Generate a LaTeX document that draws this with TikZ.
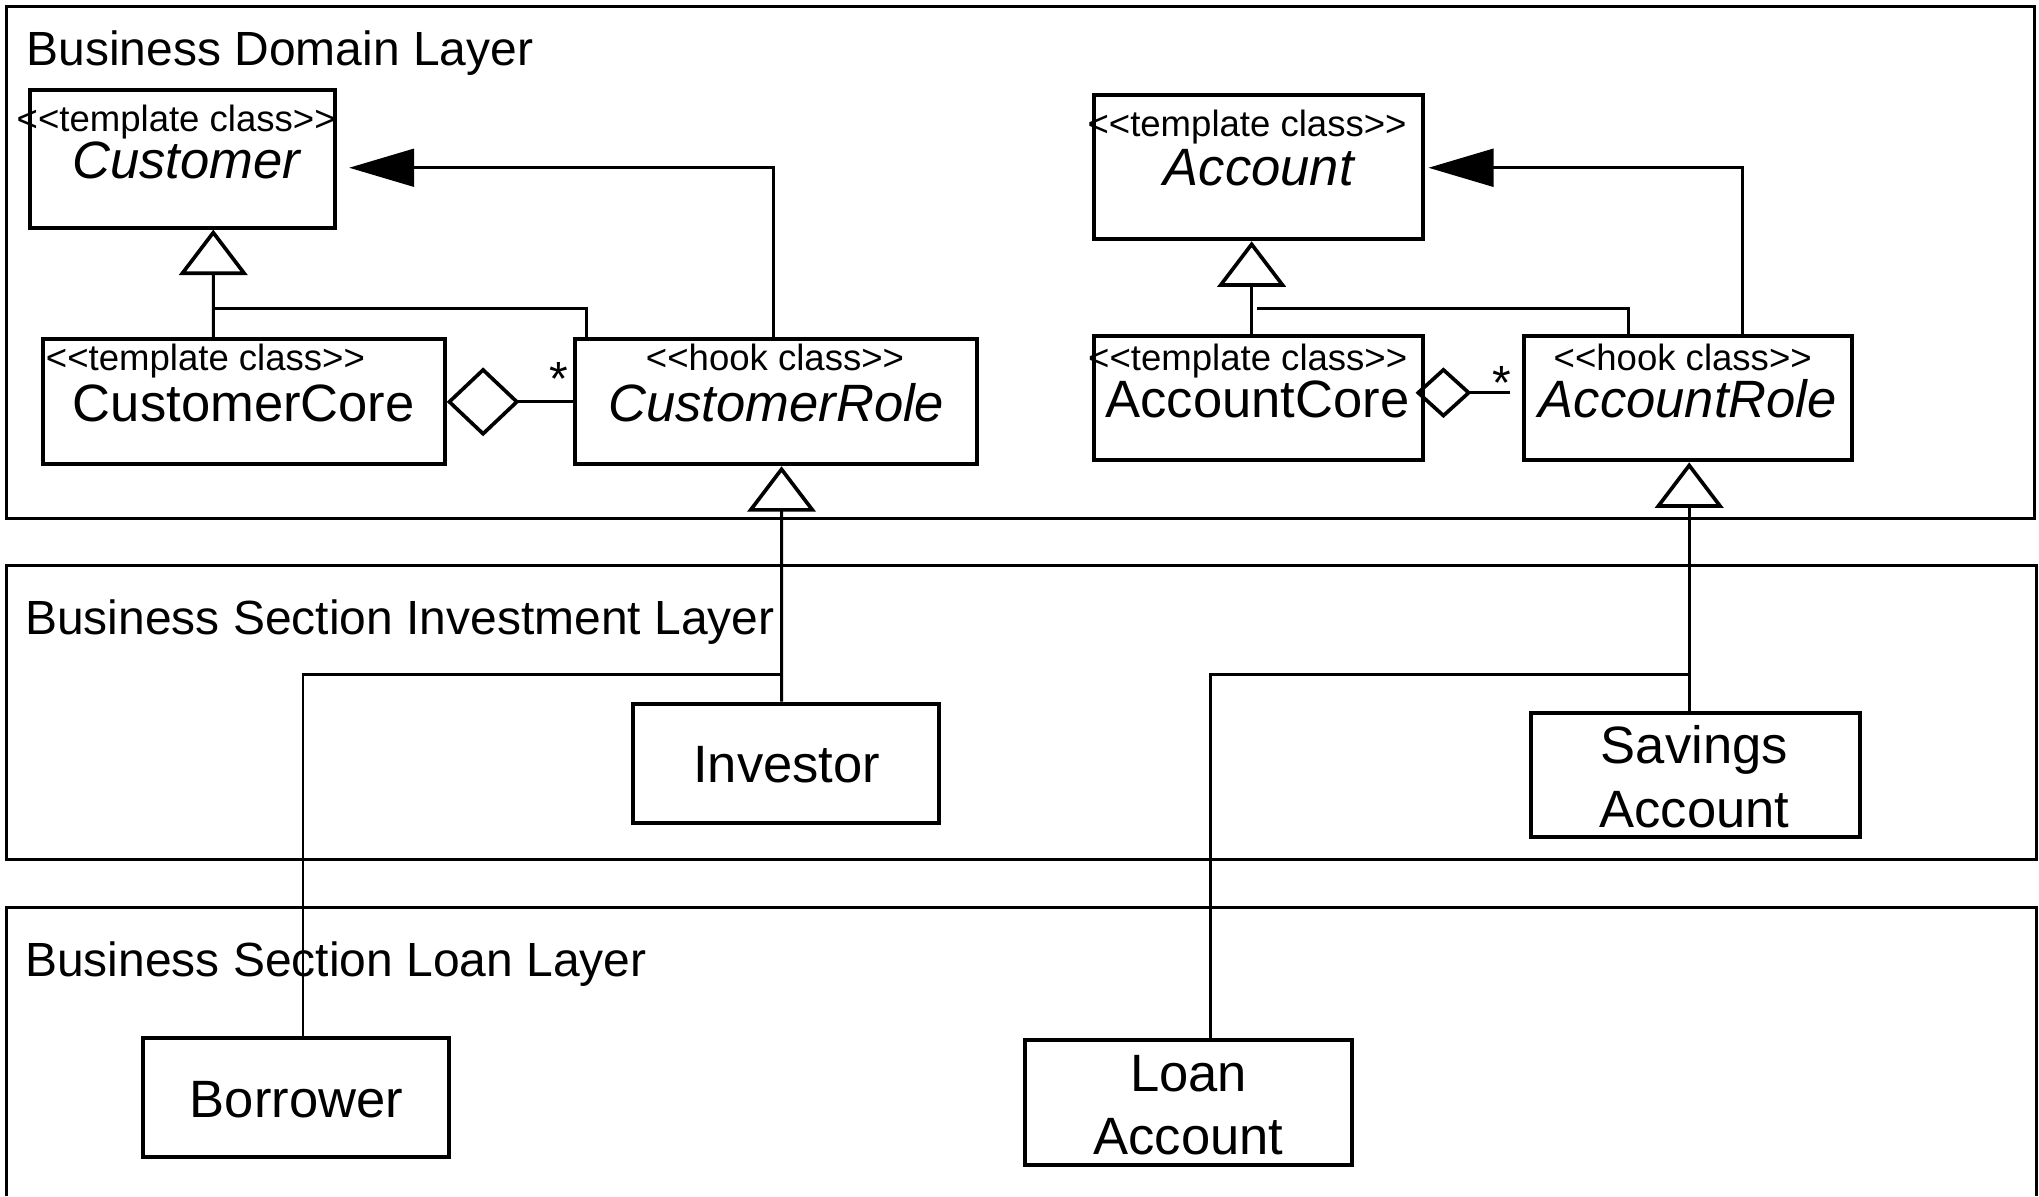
\documentclass[tikz,border=0pt]{standalone}
\usepackage{fontspec}
\setmainfont{Liberation Sans}[Ligatures=TeXOff]
\usetikzlibrary{arrows.meta,calc}
\begin{document}
\begin{tikzpicture}[x=0.02cm,y=-0.02cm,
  layer/.style={draw,line width=1.3pt,inner sep=0},
  cls/.style={draw,line width=1.75pt,inner sep=0,rectangle},
  conn/.style={draw,line width=1.3pt},
  st/.style={font=\fontsize{16}{19}\selectfont,anchor=base,inner sep=0},
  nm/.style={font=\fontsize{23}{27}\selectfont,anchor=base,inner sep=0},
  nmi/.style={font=\fontsize{23}{27}\selectfont\itshape,anchor=base,inner sep=0},
  ttl/.style={font=\fontsize{21}{25}\selectfont,anchor=base west,inner sep=0},
  mult/.style={font=\fontsize{21}{24}\selectfont,anchor=base,inner sep=0},
  gen/.style={conn,-{Triangle[open,length=0.7cm,width=1.05cm,line width=1.6pt]}},
  nav/.style={conn,-{Triangle[length=1cm,width=0.58cm]}},
  agg/.style={conn,{Diamond[open,length=1.12cm,width=1.06cm,line width=1.6pt]}-},
  aggs/.style={conn,{Diamond[open,length=0.86cm,width=0.78cm,line width=1.6pt]}-}
]
\useasboundingbox (0,0) rectangle (1568,920);

% layers
\node[layer,minimum width=31.2cm,minimum height=7.88cm] (dom) at (785,202) {};
\node[layer,minimum width=31.22cm,minimum height=4.52cm] (invl) at (785.5,548) {};
\draw[line width=1.3pt] (5,920) -- (5,698) -- (1566,698) -- (1566,920);

\node[ttl] (t1) at (20,50) {Business Domain Layer};
\node[ttl] (t2) at (19,488) {Business Section Investment Layer};
\node[ttl] (t3) at (19,751) {Business Section Loan Layer};

% class boxes
\node[cls,minimum width=4.7cm,minimum height=2.12cm] (cust) at (140.5,122) {};
\node[cls,minimum width=6.18cm,minimum height=1.92cm] (ccore) at (187.5,309) {};
\node[cls,minimum width=6.18cm,minimum height=1.92cm] (crole) at (596.5,309) {};
\node[cls,minimum width=5.06cm,minimum height=2.22cm] (acc) at (967.5,128.5) {};
\node[cls,minimum width=5.06cm,minimum height=1.92cm] (acore) at (967.5,306) {};
\node[cls,minimum width=5.04cm,minimum height=1.92cm] (arole) at (1298,306) {};
\node[cls,minimum width=4.7cm,minimum height=1.84cm] (inv) at (604.5,587) {};
\node[cls,minimum width=5.06cm,minimum height=1.92cm] (sav) at (1303.5,596) {};
\node[cls,minimum width=4.7cm,minimum height=1.84cm] (bor) at (227.5,844) {};
\node[cls,minimum width=5.04cm,minimum height=1.92cm] (loan) at (914,848) {};

% texts in boxes
\node[st] (custst) at (135.5,101) {<<template class>>};
\node[nmi] (custnm) at (143,137) {Customer};
\node[st] (ccorest) at (158,285) {<<template class>>};
\node[nm] (ccorenm) at (187.5,324) {CustomerCore};
\node[st] (crolest) at (596,285) {<<hook class>>};
\node[nmi] (crolenm) at (597,324) {CustomerRole};
\node[st] (accst) at (959,105) {<<template class>>};
\node[nmi] (accnm) at (968,143) {Account};
\node[st] (acorest) at (959.5,285) {<<template class>>};
\node[nm] (acorenm) at (967,321) {AccountCore};
\node[st] (arolest) at (1294,285) {<<hook class>>};
\node[nmi] (arolenm) at (1298,321) {AccountRole};
\node[nm] (invnm) at (605,602) {Investor};
\node[nm] (savnm1) at (1303,587) {Savings};
\node[nm] (savnm2) at (1303,636) {Account};
\node[nm] (bornm) at (228,859) {Borrower};
\node[nm] (loannm1) at (914,839) {Loan};
\node[nm] (loannm2) at (914,888) {Account};

% navigable associations
\draw[nav] ($(crole.north)+(-1.5,0)$) |- ($(cust.east)+(9,7)$);
\draw[nav] ($(arole.north)+(42,0)$) |- ($(acc.east)+(3,0.5)$);

% generalizations in domain layer
\draw[gen] ($(ccore.north)+(-23.5,0)$) -- ($(cust.south)+(23.5,0)$);
\coordinate (cj) at (164,237);
\draw[conn] ($(crole.north)+(-145.5,0)$) |- (cj);

\draw[gen] ($(acore.north)+(-5,0)$) -- ($(acc.south)+(-5,0)$);
\coordinate (aj) at (967,237);
\draw[conn] ($(arole.north)+(-46,0)$) |- (aj);

% aggregations
\draw[agg] (ccore.east) -- (crole.west);
\node[mult] (m1) at (430,304) {*};
\draw[aggs] ($(acore.east)+(-7,-4)$) -- ($(arole.west)+(-9,-4)$);
\node[mult] (m2) at (1155,307) {*};

% generalizations across layers
\draw[gen] ($(inv.north)+(-3.5,0)$) -- ($(crole.south)+(4.5,0)$);
\coordinate (ij) at (601,519);
\draw[conn] ($(bor.north)+(5.5,0)$) |- (ij);

\draw[gen] ($(sav.north)+(-4.5,0)$) -- ($(arole.south)+(1,0)$);
\coordinate (sj) at (1299,519);
\draw[conn] ($(loan.north)+(17,0)$) |- (sj);
\end{tikzpicture}
\end{document}
